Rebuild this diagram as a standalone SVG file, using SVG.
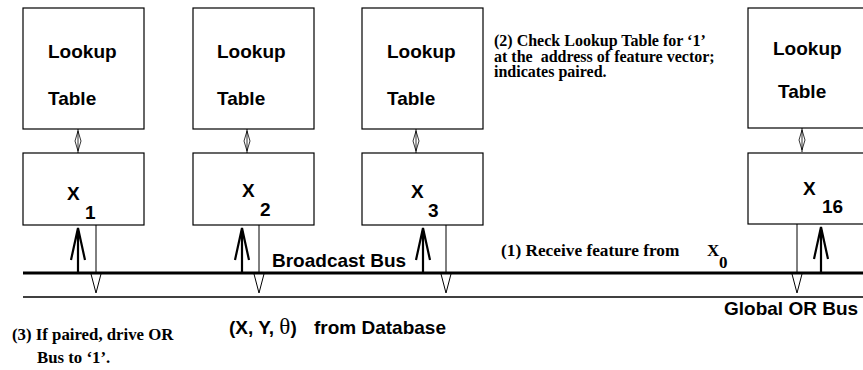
<svg xmlns="http://www.w3.org/2000/svg" width="863" height="370" viewBox="0 0 863 370">
<style>
.box{fill:#fff;stroke:#000;stroke-width:1.2}
.sans{font-family:"Liberation Sans",Arial,sans-serif;font-weight:bold;font-size:19px;fill:#000}
.serif{font-family:"Liberation Serif","Times New Roman",serif;font-weight:bold;font-size:16px;fill:#000}
.thin{stroke:#000;stroke-width:1;fill:none}
.thick{stroke:#000;stroke-width:2.2;fill:none}
.bus{stroke:#000;stroke-width:3}
.gbus{stroke:#000;stroke-width:1.4}
.dia{fill:#fff;stroke:#000;stroke-width:0.8}
.dhead{fill:#fff;stroke:#000;stroke-width:1}
</style>
<defs>
<g id="diamond"><line x1="0" y1="0" x2="0" y2="24" class="thin"/><polygon points="0,2 3,12 0,22 -3,12" class="dia"/><line x1="0" y1="3" x2="0" y2="21" stroke="#000" stroke-width="0.8"/></g>
</defs>
<g id="lut1"><rect x="23" y="8" width="121" height="121" class="box"/><text x="48" y="58" class="sans">Lookup</text><text x="48" y="105" class="sans">Table</text></g>
<g id="lut2"><rect x="193" y="8" width="121" height="121" class="box"/><text x="217" y="58" class="sans">Lookup</text><text x="217" y="105" class="sans">Table</text></g>
<g id="lut3"><rect x="362" y="8" width="121" height="121" class="box"/><text x="387" y="58" class="sans">Lookup</text><text x="387" y="105" class="sans">Table</text></g>
<g id="lut16"><rect x="748" y="8" width="125" height="120" class="box"/><text x="773" y="55" class="sans">Lookup</text><text x="778" y="98" class="sans">Table</text></g>
<g id="x1"><rect x="23" y="153" width="121" height="72" class="box"/><text x="67" y="200" class="sans">X</text><text x="85" y="219" class="sans">1</text></g>
<g id="x2"><rect x="193" y="153" width="121" height="72" class="box"/><text x="242" y="197" class="sans">X</text><text x="260" y="216" class="sans">2</text></g>
<g id="x3"><rect x="362" y="153" width="121" height="72" class="box"/><text x="411" y="198" class="sans">X</text><text x="428" y="217" class="sans">3</text></g>
<g id="x16"><rect x="748" y="153" width="125" height="71" class="box"/><text x="803" y="195" class="sans">X</text><text x="822" y="213" class="sans">16</text></g>
<g id="connectors">
<use href="#diamond" x="78" y="129"/>
<use href="#diamond" x="247" y="129"/>
<use href="#diamond" x="416" y="129"/>
<use href="#diamond" x="802" y="128"/>
<line x1="23" y1="273" x2="863" y2="273" class="bus"/>
<line x1="23" y1="297" x2="863" y2="297" class="gbus"/>
<path d="M78 273V228M71 260L78 228L85 260" class="thick"/>
<path d="M242 273V228M235 260L242 228L249 260" class="thick"/>
<path d="M423 273V228M416 260L423 228L430 260" class="thick"/>
<path d="M821 273V227M814 259L821 227L828 259" class="thick"/>
<path d="M96 225V275" class="thin"/><polygon points="91,274 96,293 101,274" class="dhead"/>
<path d="M259 225V275" class="thin"/><polygon points="254,274 259,293 264,274" class="dhead"/>
<path d="M446 225V275" class="thin"/><polygon points="441,274 446,293 451,274" class="dhead"/>
<path d="M797 224V275" class="thin"/><polygon points="792,274 797,293 802,274" class="dhead"/>
</g>
<text x="272" y="267" class="sans">Broadcast Bus</text>
<text x="724" y="315" class="sans">Global OR Bus</text>
<text x="229" y="334" class="sans">(X, Y, <tspan font-family="Liberation Serif,serif" font-weight="normal" font-size="23">θ</tspan>)</text>
<text x="314" y="334" class="sans">from Database</text>
<text x="501" y="256" class="serif" style="font-size:17.3px">(1) Receive feature from</text>
<text x="707" y="256" class="serif" style="font-size:17px">X</text>
<text x="719" y="268" class="serif" style="font-size:17px">0</text>
<text class="serif" xml:space="preserve"><tspan x="494" y="46">(2) Check Lookup Table for ‘1’</tspan><tspan x="494" y="61.5">at the  address of feature vector;</tspan><tspan x="494" y="77">indicates paired.</tspan></text>
<text class="serif" style="font-size:16.8px"><tspan x="12" y="340">(3) If paired, drive OR</tspan><tspan x="37" y="363">Bus to ‘1’.</tspan></text>
</svg>
